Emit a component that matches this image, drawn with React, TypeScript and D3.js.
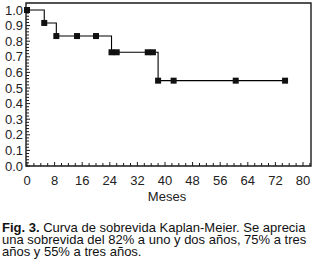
import { useEffect, useRef } from "react";
import * as d3 from "d3";

// Kaplan-Meier step: time (months) and survival after each event
const stepTimes = [0, 5, 8.5, 24.5, 38, 75];
const stepSurv = [1.0, 0.917, 0.833, 0.729, 0.547, 0.547];

// square markers (events + censored observations)
const markTimes = [0, 5, 8.5, 14.5, 20, 24.5, 26, 35, 36.5, 38, 42.5, 60.5, 74.8];
const markSurv = [1.0, 0.917, 0.833, 0.833, 0.833, 0.729, 0.729, 0.729, 0.729, 0.547, 0.547, 0.547, 0.547];

const xTicks = [0, 8, 16, 24, 32, 40, 48, 56, 64, 72, 80];
const yTicks = [0, 0.1, 0.2, 0.3, 0.4, 0.5, 0.6, 0.7, 0.8, 0.9, 1.0];

const captionLines = [
  "una sobrevida del 82% a uno y dos años, 75% a tres",
  "años y 55% a tres años.",
];

export default function App() {
  const svgRef = useRef<SVGSVGElement>(null);

  useEffect(() => {
    if (!svgRef.current) return;
    const svg = d3.select(svgRef.current);
    svg.selectAll("*").remove();

    const font = "'Liberation Sans', Arial, sans-serif";
    const ink = "#1a1a1a";

    const x = d3.scaleLinear().domain([0, 80]).range([27, 303]);
    const y = d3.scaleLinear().domain([0, 1]).range([166, 10]);
    const left = 26, right = 311, top = 3, bottom = 166;

    // frame
    svg.append("path")
      .attr("d", `M${left},${bottom}H${right}V${top}H${left}Z`)
      .attr("fill", "none").attr("stroke", ink).attr("stroke-width", 1.4);

    // x minor + major ticks (inward)
    const xMinor = d3.range(0, 83, 2);
    svg.append("g").selectAll("line").data(xMinor).join("line")
      .attr("x1", (d) => x(d)).attr("x2", (d) => x(d))
      .attr("y1", bottom).attr("y2", (d) => bottom - (d % 8 === 0 ? 4 : 3))
      .attr("stroke", ink).attr("stroke-width", 1);

    const yMinor = d3.range(0, 51).map((i) => i * 0.02);
    svg.append("g").selectAll("line").data(yMinor).join("line")
      .attr("x1", left).attr("x2", (d, i) => left + (i % 5 === 0 ? 4 : 3))
      .attr("y1", (d) => y(d)).attr("y2", (d) => y(d))
      .attr("stroke", ink).attr("stroke-width", 1);

    svg.append("g").selectAll("text").data(xTicks).join("text")
      .attr("x", (d) => x(d)).attr("y", 185)
      .attr("text-anchor", "middle")
      .attr("font-family", font).attr("font-size", 13).attr("fill", "#222")
      .text((d) => String(d));

    svg.append("g").selectAll("text").data(yTicks).join("text")
      .attr("x", 23).attr("y", (d) => y(d) + 4.5)
      .attr("text-anchor", "end")
      .attr("font-family", font).attr("font-size", 13).attr("fill", "#222")
      .text((d) => d.toFixed(1));

    svg.append("text")
      .attr("x", 167).attr("y", 201)
      .attr("text-anchor", "middle")
      .attr("font-family", font).attr("font-size", 13).attr("fill", "#222")
      .text("Meses");

    // step curve
    const pts = stepTimes.map((t, i) => [t, stepSurv[i]] as [number, number]);
    const line = d3.line<[number, number]>()
      .x((d) => x(d[0])).y((d) => y(d[1]))
      .curve(d3.curveStepAfter);
    svg.append("path")
      .attr("d", line(pts))
      .attr("fill", "none").attr("stroke", "#000").attr("stroke-width", 1.1);

    // markers
    const s = 6;
    svg.append("g").selectAll("rect").data(markTimes).join("rect")
      .attr("x", (d) => x(d) - s / 2)
      .attr("y", (d, i) => y(markSurv[i]) - s / 2)
      .attr("width", s).attr("height", s)
      .attr("fill", "#111");

    // caption
    const cap = svg.append("text")
      .attr("x", 2).attr("y", 232)
      .attr("font-family", font).attr("font-size", 13).attr("fill", "#111");
    cap.append("tspan").attr("font-weight", "bold").text("Fig. 3.");
    cap.append("tspan").text(" Curva de sobrevida Kaplan-Meier. Se aprecia");
    captionLines.forEach((t, i) => {
      svg.append("text")
        .attr("x", 2).attr("y", 244 + i * 12)
        .attr("font-family", font).attr("font-size", 13).attr("fill", "#111")
        .text(t);
    });
  }, []);

  return (
    <svg
      ref={svgRef}
      width={315}
      height={265}
      style={{ position: "absolute", left: 0, top: 0, background: "#fff" }}
    />
  );
}
